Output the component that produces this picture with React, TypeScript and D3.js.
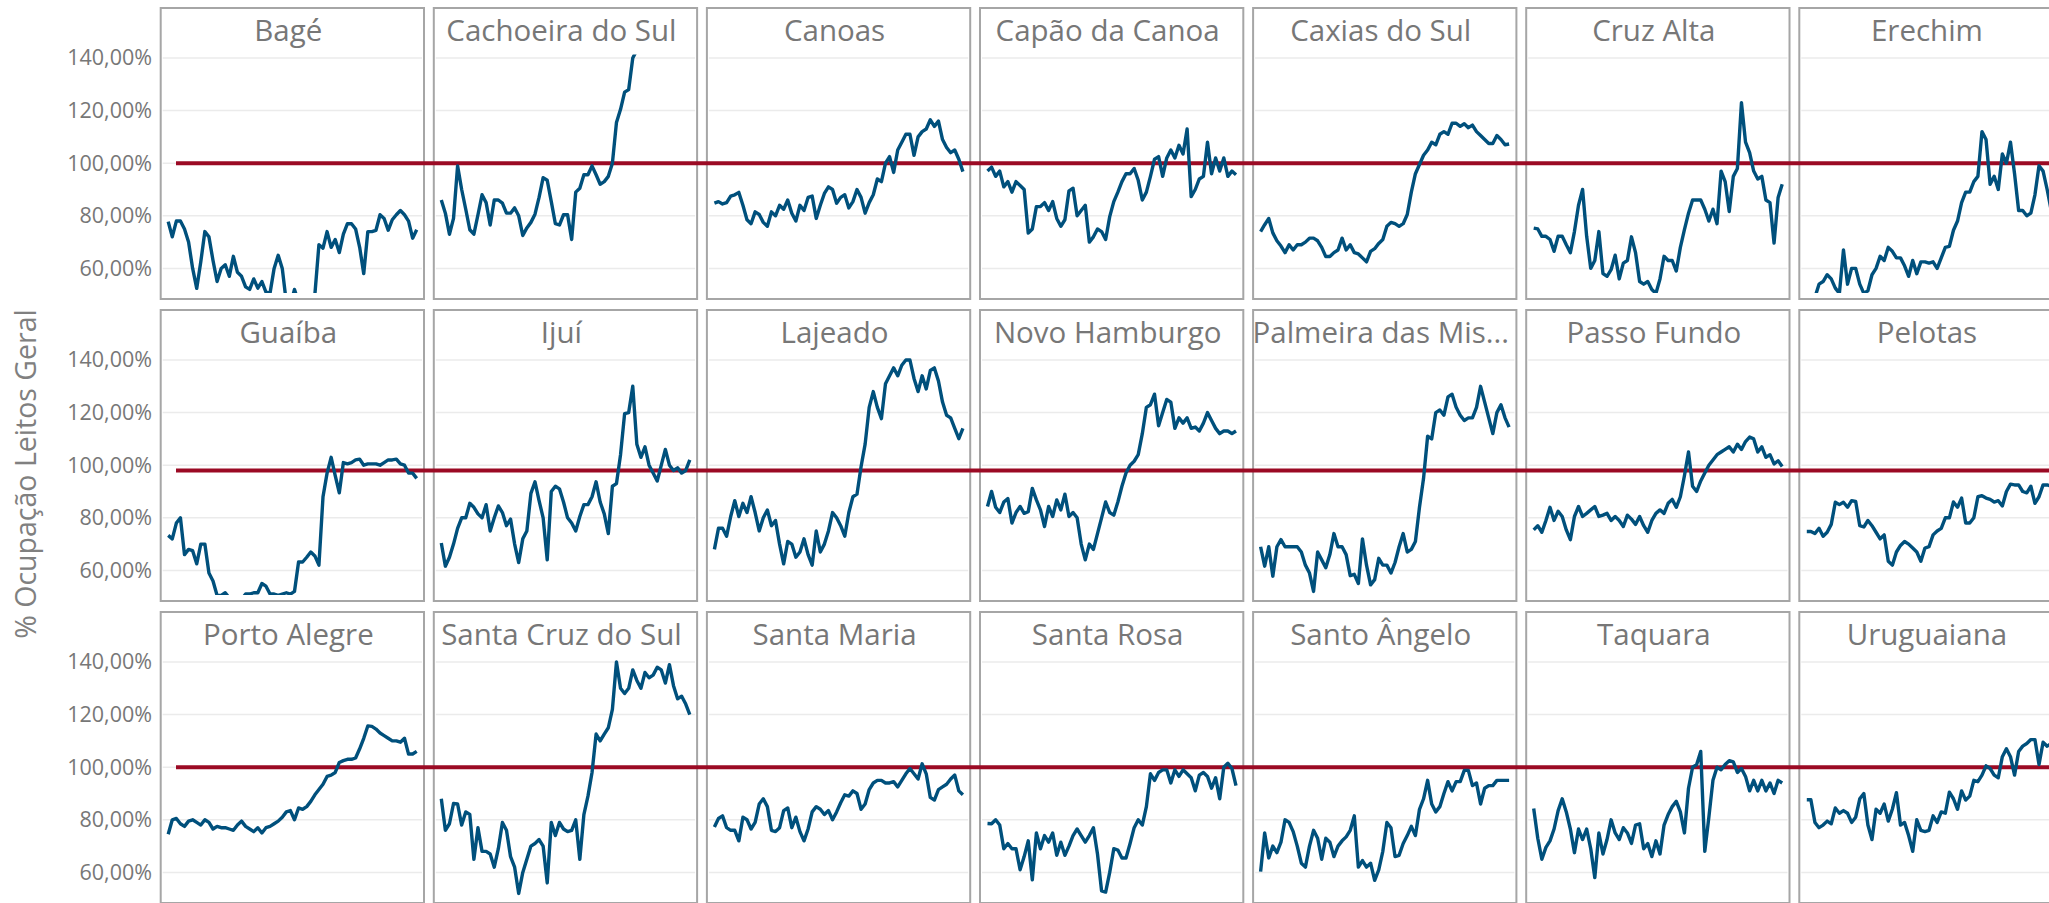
import { useEffect, useRef } from "react";
import * as d3 from "d3";

// small multiples: % bed occupancy per region, one panel per city
const cities = [
  "Bagé", "Cachoeira do Sul", "Canoas", "Capão da Canoa", "Caxias do Sul", "Cruz Alta", "Erechim",
  "Guaíba", "Ijuí", "Lajeado", "Novo Hamburgo", "Palmeira das Mis...", "Passo Fundo", "Pelotas",
  "Porto Alegre", "Santa Cruz do Sul", "Santa Maria", "Santa Rosa", "Santo Ângelo", "Taquara", "Uruguaiana",
];

// reference line per row
const refLine = [100, 98, 100];
const tickValues = [60, 80, 100, 120, 140];

const bage = [77.8, 72, 78, 78, 75, 70, 60, 52.4, 62.5, 74, 72, 63, 55, 60, 61.4, 57, 64.6, 58.5, 57, 53, 52, 56, 52.5, 55, 51, 50.6, 60, 65, 60, 47, 46, 52, 47, 45, 46, 48, 50, 69, 67.7, 74, 68, 71, 66, 73, 77, 77, 75, 68, 58, 74, 74, 74.5, 80.4, 79, 74.5, 78.5, 80.4, 82, 80.4, 78, 71.5, 74.7];
const cachoeiraDoSul = [86, 81, 73, 79, 99, 90, 82.5, 74.7, 73, 80.4, 88, 85, 76.5, 86, 86, 84.8, 81, 81, 83, 80, 72.5, 75.4, 77.5, 80.6, 87, 94.5, 93.5, 85.4, 77, 76.5, 80.4, 80.4, 71, 89, 90.5, 95.6, 95.6, 99, 95.6, 92, 93, 95, 100, 115.5, 120.5, 127, 128, 140, 143, 145, 148, 151, 150, 154, 157, 155, 159, 161, 158, 162, 164, 163];
const canoas = [84.8, 85.4, 84.5, 85, 87.5, 88, 88.9, 84, 78.5, 77, 81.5, 80.5, 77.5, 76, 81.5, 80, 84, 82.5, 86, 81, 78, 84, 82, 87, 87.5, 79, 84, 88.5, 91, 90, 84.8, 87, 88, 83, 85.4, 90, 87, 81, 85, 88, 94, 93, 100, 102.5, 96.5, 105, 108, 111, 111, 103, 110, 112, 113, 116.5, 114, 116, 109, 106, 104, 105, 101.5, 96.8];
const capaoDaCanoa = [97, 98.5, 95, 97, 91, 93, 89, 93, 91.5, 90, 73.4, 75, 83.5, 83.5, 85, 82, 85.4, 79, 76, 78.5, 89.5, 90.5, 80, 82, 84, 70, 72, 75, 74, 71, 79.7, 85.4, 89, 93, 96, 96, 98, 93.5, 86, 89, 95, 101.5, 102.5, 95, 102, 105, 102, 106.8, 103.5, 113, 87.3, 90, 94, 95, 108, 96, 102, 97, 102, 95, 97, 95.6];
const caxiasDoSul = [74, 76.6, 79, 73.5, 70.5, 68.5, 66, 69, 67, 69, 69, 70, 71.5, 71.5, 70.5, 68, 64.5, 64.5, 66, 67, 71.5, 67, 69, 66, 65.5, 64, 62.5, 66.5, 67.5, 69.5, 71, 76, 77.5, 77, 76, 77, 80.5, 89, 96, 99.5, 103, 105, 108, 107, 111, 112, 111, 115.2, 115.2, 114, 115, 113.5, 114.5, 112, 110.5, 109, 107.5, 107.5, 110.5, 109, 107, 107.3];
const cruzAlta = [75.3, 75, 72.2, 72.2, 71, 66.5, 72.2, 72.2, 69, 66, 74, 84, 90, 72.2, 60, 63, 74, 58, 57, 59.5, 65, 56, 62, 63, 72, 66, 55, 54, 55, 52, 50.5, 56, 64.6, 63, 63, 59, 68, 74.7, 81, 86, 86, 86, 82.5, 78, 82.5, 77, 97, 93, 81.6, 95, 98, 123, 108, 104, 97, 94, 95, 86, 85, 69.6, 87, 92];
const erechim = [47, 48, 49, 54, 55, 57.6, 56, 52.5, 50.5, 67, 54, 60, 60, 54, 50.5, 51.5, 57.6, 60, 64.6, 63, 68, 66.5, 64, 64, 61, 57, 63, 58, 62.5, 62.5, 62, 62.5, 60, 64, 68, 68.4, 74.5, 78, 85, 89, 89, 93, 95, 112, 109, 92, 95, 90, 103.5, 100, 108, 96, 82, 82, 80, 81, 88, 99, 97, 90, 82, 84];
const guaiba = [73.3, 72, 78, 80, 66, 68, 67.5, 62.5, 70, 70, 59, 56, 50.5, 50.5, 51.5, 49.5, 49, 49.5, 49, 51, 51, 51.5, 51.5, 55, 54, 51, 51, 50.5, 51, 51.5, 51, 52, 63.2, 63.2, 65, 67, 65.5, 62, 88, 97, 103, 96, 89.5, 101, 100.5, 101, 102, 102.3, 100, 100.5, 100.5, 100.5, 100, 101, 102, 102, 102.3, 100.5, 100, 97, 97, 95];
const ijui = [70.4, 61.6, 65, 70, 76, 80, 80, 85.5, 84, 81.5, 80, 85, 75, 80, 84.5, 82, 77, 79.5, 70, 63, 72, 75, 89.3, 93.7, 86.5, 80, 64, 90, 92, 91, 86, 80, 78, 75, 80.5, 85, 85, 88, 93.7, 86, 81.5, 74, 92, 93, 104, 119.6, 120, 130, 108, 103, 107, 100, 97, 94, 100, 106, 100, 98, 99, 97, 98, 102];
const lajeado = [68, 76, 76, 73, 80.5, 86.5, 80.5, 85.5, 82, 88, 82, 75, 80, 83, 77, 79, 70, 62.5, 71, 70, 65, 67, 72, 66, 62, 75, 67, 70, 75, 82, 80, 77, 73, 82, 88, 89, 99.4, 108, 122, 128, 122, 117.7, 131, 134, 137, 134, 138, 140, 140, 133, 128, 134, 129, 136, 137, 132, 124, 119, 118, 114, 110.1, 114];
const novoHamburgo = [84.3, 90, 84, 82, 86, 87.3, 78, 82, 84.3, 81.7, 82.3, 91.2, 86.8, 83, 76.7, 84.3, 80.5, 86.8, 83, 89, 80.5, 82, 80, 70, 64, 70, 68, 74, 80, 86, 82, 81, 86, 92, 97, 100, 101.5, 104, 112, 122, 123, 127, 115, 120, 125, 124, 114, 118, 116, 118, 114, 114.5, 113, 116, 120, 117, 114, 112, 113, 113, 112, 113];
const palmeiraDasMissoes = [69, 61.6, 69, 57.8, 69, 71.7, 69, 69, 69, 69, 67, 62, 59, 52, 67, 64, 61, 66, 74, 69, 69, 66, 58, 58.5, 55, 72, 62, 54.5, 56.5, 64.6, 62, 62, 59, 63, 69, 74, 67, 68, 71, 84, 95, 111, 110, 120, 121, 119, 126, 127, 122, 119, 117, 118, 118, 122, 130, 124, 118, 112, 120, 123, 118, 114.5];
const passoFundo = [75.4, 77, 74.5, 79, 84, 79, 82.5, 80.5, 75.4, 71.7, 80.5, 84.3, 80.5, 81.7, 83, 84.3, 80.5, 81, 81.7, 79, 80.5, 79, 76.7, 81, 79.5, 77.5, 80.5, 77, 74.5, 79, 81.7, 83, 81.7, 85.5, 87, 84, 88, 96, 105, 92, 90, 94, 97, 100, 102, 104, 105, 106, 107, 105, 108, 106, 109, 110.7, 110, 105, 107, 103, 104, 100.5, 101.7, 99.5];
const pelotas = [74.8, 74.8, 74, 76, 73, 74.5, 77.5, 85.9, 85, 85.9, 84, 86.5, 86.2, 77, 76.5, 79, 77, 74.5, 72, 73.5, 63.5, 62, 67, 69.5, 71, 70, 68.5, 67, 63.5, 68.5, 69, 73.5, 75, 76, 80, 80, 86, 84, 87.5, 78, 78, 80, 88, 88.4, 87.5, 87, 86, 86.5, 84.5, 90, 92.8, 92.5, 92.5, 90, 89.5, 92, 85.5, 88, 92.5, 92.5, 92, 93];
const portoAlegre = [74.5, 80, 80.5, 78.5, 77.5, 79.5, 80, 79, 78, 80, 79, 76.5, 77.5, 77, 77, 76.5, 76, 78, 79.5, 77.5, 76.5, 75.5, 77, 75, 77, 77.5, 78.5, 79.5, 81, 83, 83.5, 80, 84.5, 84, 85, 87, 89.5, 91.5, 93.5, 96.5, 97, 98, 101.8, 102.5, 103, 103, 103.5, 107, 111, 115.7, 115.5, 114.5, 113, 112, 111, 110, 110, 109.5, 111, 105, 105, 106];
const santaCruzDoSul = [88, 76, 78.5, 86.2, 86, 78, 83, 82, 65, 77, 68, 68, 67, 62, 69, 79, 76, 66, 62, 52, 60, 65, 70, 71, 72.5, 70, 56, 79, 74, 79, 76.5, 75.5, 76, 80, 65, 82, 89, 98, 112.6, 110, 112.6, 115, 122, 140, 130, 128, 130, 137, 133, 130, 136, 134, 135, 138, 137, 132, 139, 131, 126, 127, 124, 120];
const santaMaria = [77.3, 80.5, 81.5, 77, 76, 76, 72, 81, 80, 76.5, 79, 86, 88, 85, 76, 75.5, 77, 83.5, 84.5, 77, 81, 75.5, 72, 76.5, 83, 85, 84, 82, 83.5, 80, 83, 86.5, 89.5, 89, 91, 90, 84, 86, 91.5, 94, 95, 95, 94, 94, 94.5, 92.5, 95, 97.5, 99.5, 97.5, 95.5, 101.3, 97.5, 88.5, 87.5, 91.5, 92.5, 93.5, 95.5, 97, 91, 89.5];
const santaRosa = [78.6, 78.5, 80, 78, 69, 71, 69, 69, 61, 66, 72, 57.2, 75, 69, 74, 71.5, 75, 66.5, 71.5, 66.5, 70, 74, 76.5, 74, 71.5, 74, 77, 67, 53, 52.5, 60, 69, 68.5, 65.5, 65.5, 71, 77, 80, 78, 85, 97.5, 95, 98, 99, 99, 94, 99, 96.5, 99, 97.5, 96, 91, 97, 98, 96.5, 92, 96, 88, 100, 101.5, 99.5, 93];
const santoAngelo = [60.3, 75, 65.5, 70, 67.5, 71.5, 80, 79, 75.5, 70, 63.5, 62, 70, 76, 73, 65, 73, 71.5, 66, 70, 72, 73.5, 76, 81.5, 62, 64.5, 62, 63.5, 57, 61, 68, 79, 77, 66, 66.5, 71, 74, 77.5, 74, 84, 88, 95, 86, 83, 85, 90, 94.5, 91, 94.5, 94.5, 98.8, 98.8, 93, 94, 86, 92, 93, 93, 95, 95, 95, 95];
const taquara = [84.3, 73, 65, 69.5, 72, 76.5, 83.5, 88, 83, 76.5, 67.5, 76.5, 72.5, 76.5, 69, 58, 75, 67, 72.5, 80, 75, 72.5, 77, 75, 71, 78, 78.5, 69, 71, 66, 72, 67, 78, 82, 85, 87, 83, 75, 92, 100, 101, 106, 68, 81, 95, 100, 99, 101, 102.5, 102, 98, 99.5, 96.5, 91, 95, 91, 95, 91, 94, 90, 95, 94];
const uruguaiana = [87.6, 87.6, 79, 77, 78, 79.5, 78.5, 84.5, 82.5, 83.5, 82.5, 79, 81, 88, 90, 78, 72.5, 84, 82.5, 86, 79.5, 84, 90.3, 78, 79, 74, 68, 80, 76, 75.5, 76, 81.5, 79, 83, 82.5, 90.5, 88, 84, 91, 87.5, 89, 95, 94.5, 97, 100.5, 99.5, 97, 96, 104, 107, 104, 97, 106, 108, 109, 110.5, 110.5, 101, 109.5, 108, 109, 100];

const series = [
  bage, cachoeiraDoSul, canoas, capaoDaCanoa, caxiasDoSul, cruzAlta, erechim,
  guaiba, ijui, lajeado, novoHamburgo, palmeiraDasMissoes, passoFundo, pelotas,
  portoAlegre, santaCruzDoSul, santaMaria, santaRosa, santoAngelo, taquara, uruguaiana,
];

const width = 2049;
const height = 903;
const cols = 7;
const colStart = 160.7;
const colStep = 273.1;
const panelW = 263.3;
const rowStart = 8;
const rowStep = 302;
const panelH = 291;

const font = '"Segoe UI", "Open Sans", sans-serif';

function App() {
  const ref = useRef<SVGSVGElement>(null);

  useEffect(() => {
    const svg = d3.select(ref.current);
    svg.selectAll("*").remove();

    const fmt = d3.formatLocale({
      decimal: ",",
      thousands: ".",
      grouping: [3],
      currency: ["R$", ""],
    }).format(".2f");

    const defs = svg.append("defs");
    const back = svg.append("g");
    const refs = svg.append("g");
    const front = svg.append("g");

    const rows = Math.ceil(cities.length / cols);
    for (let r = 0; r < rows; r++) {
      const top = rowStart + r * rowStep;
      const y = d3.scaleLinear().domain([60, 140]).range([top + 260.4, top + 50]);

      // y axis labels
      const axis = back.append("g")
        .attr("transform", "translate(152,0)")
        .call(
          d3.axisLeft(y)
            .tickValues(tickValues)
            .tickSize(0)
            .tickPadding(0)
            .tickFormat((d) => fmt(d as number) + "%")
        );
      axis.select(".domain").remove();
      axis.selectAll("text")
        .style("font-family", font)
        .style("font-size", "21.5px")
        .style("fill", "#777");

      for (let c = 0; c < cols; c++) {
        const idx = r * cols + c;
        if (idx >= cities.length) break;
        const left = colStart + c * colStep;
        const values = series[idx];
        const x = d3.scaleLinear().domain([0, values.length - 1]).range([left + 7.5, left + 256]);

        // gridlines
        back.append("g")
          .selectAll("line")
          .data(tickValues)
          .enter()
          .append("line")
          .attr("x1", left + 2)
          .attr("x2", left + panelW - 2)
          .attr("y1", (d) => y(d))
          .attr("y2", (d) => y(d))
          .attr("stroke", "#ebebeb")
          .attr("stroke-width", 1.5);

        back.append("rect")
          .attr("x", left)
          .attr("y", top)
          .attr("width", panelW)
          .attr("height", panelH)
          .attr("fill", "none")
          .attr("stroke", "#a6a6a6")
          .attr("stroke-width", 2);

        const clipId = `clip-${idx}`;
        defs.append("clipPath")
          .attr("id", clipId)
          .append("rect")
          .attr("x", left + 1)
          .attr("y", y(141.3))
          .attr("width", panelW - 2)
          .attr("height", y(50.6) - y(141.3));

        const line = d3.line<number>()
          .x((_, i) => x(i))
          .y((d) => y(d));

        front.append("path")
          .datum(values)
          .attr("clip-path", `url(#${clipId})`)
          .attr("d", line)
          .attr("fill", "none")
          .attr("stroke", "#00507c")
          .attr("stroke-width", 3.4)
          .attr("stroke-linejoin", "round");

        front.append("text")
          .attr("x", left + panelW / 2 - 4)
          .attr("y", top + 33)
          .attr("text-anchor", "middle")
          .style("font-family", font)
          .style("font-size", "29.5px")
          .style("fill", "#777")
          .text(cities[idx]);
      }

      // reference line across the whole row
      refs.append("line")
        .attr("x1", 176)
        .attr("x2", width)
        .attr("y1", y(refLine[r]))
        .attr("y2", y(refLine[r]))
        .attr("stroke", "#9b0a24")
        .attr("stroke-width", 4);
    }

    svg.append("text")
      .attr("transform", "translate(36,474) rotate(-90)")
      .attr("text-anchor", "middle")
      .style("font-family", font)
      .style("font-size", "28.5px")
      .style("fill", "#808080")
      .text("% Ocupação Leitos Geral");
  }, []);

  return (
    <svg
      ref={ref}
      width={width}
      height={height}
      style={{ position: "absolute", left: 0, top: 0, background: "#fff" }}
    ></svg>
  );
}

export default App;
